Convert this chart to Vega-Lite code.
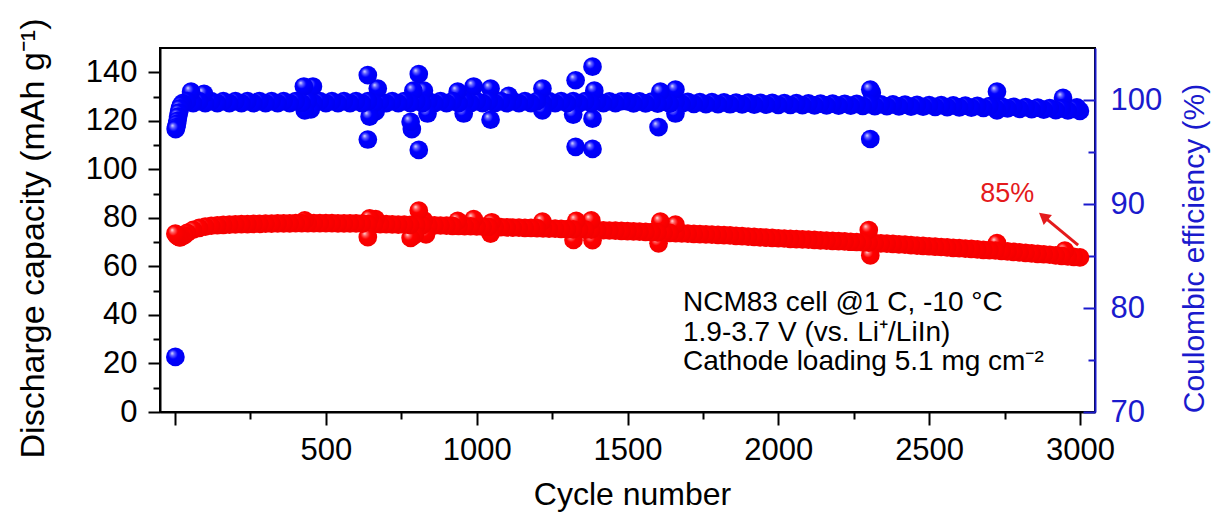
{
  "$schema": "https://vega.github.io/schema/vega-lite/v6.json",
  "width": 935,
  "height": 364,
  "autosize": {"type": "none"},
  "padding": {"left": 160, "top": 48, "right": 118, "bottom": 104},
  "background": "white",
  "config": {
    "view": {"stroke": "black", "strokeWidth": 2},
    "font": "Liberation Sans",
    "axis": {"grid": false, "labelFont": "Liberation Sans", "titleFont": "Liberation Sans", "titleFontWeight": "normal", "labelFlush": false, "labelOverlap": false}
  },
  "datasets": {
    "cap": [
      {"cycle": 1, "val": 73.5}, {"cycle": 4, "val": 73.0}, {"cycle": 8, "val": 72.5}, {"cycle": 12, "val": 72.2}, {"cycle": 16, "val": 72.0}, {"cycle": 20, "val": 72.2}, {"cycle": 30, "val": 72.8},
      {"cycle": 40, "val": 73.8}, {"cycle": 60, "val": 75.1}, {"cycle": 80, "val": 75.9}, {"cycle": 100, "val": 76.4}, {"cycle": 120, "val": 76.75}, {"cycle": 140, "val": 76.95}, {"cycle": 160, "val": 77.1}, {"cycle": 180, "val": 77.2}, {"cycle": 200, "val": 77.3}, {"cycle": 220, "val": 77.4}, {"cycle": 240, "val": 77.45}, {"cycle": 260, "val": 77.5}, {"cycle": 280, "val": 77.55}, {"cycle": 300, "val": 77.6}, {"cycle": 320, "val": 77.65}, {"cycle": 340, "val": 77.7}, {"cycle": 360, "val": 77.7}, {"cycle": 380, "val": 77.75}, {"cycle": 400, "val": 77.8}, {"cycle": 420, "val": 77.8}, {"cycle": 440, "val": 77.8}, {"cycle": 460, "val": 77.8}, {"cycle": 480, "val": 77.8}, {"cycle": 500, "val": 77.8}, {"cycle": 520, "val": 77.8}, {"cycle": 540, "val": 77.75}, {"cycle": 560, "val": 77.75}, {"cycle": 580, "val": 77.7}, {"cycle": 600, "val": 77.7}, {"cycle": 620, "val": 77.6}, {"cycle": 640, "val": 77.55}, {"cycle": 660, "val": 77.5}, {"cycle": 680, "val": 77.45}, {"cycle": 700, "val": 77.4}, {"cycle": 720, "val": 77.3}, {"cycle": 740, "val": 77.25}, {"cycle": 760, "val": 77.2}, {"cycle": 780, "val": 77.15}, {"cycle": 800, "val": 77.1}, {"cycle": 820, "val": 77.0}, {"cycle": 840, "val": 76.95}, {"cycle": 860, "val": 76.9}, {"cycle": 880, "val": 76.85}, {"cycle": 900, "val": 76.8}, {"cycle": 920, "val": 76.7}, {"cycle": 940, "val": 76.65}, {"cycle": 960, "val": 76.6}, {"cycle": 980, "val": 76.55}, {"cycle": 1000, "val": 76.5}, {"cycle": 1020, "val": 76.4}, {"cycle": 1040, "val": 76.3}, {"cycle": 1060, "val": 76.25}, {"cycle": 1080, "val": 76.2}, {"cycle": 1100, "val": 76.1}, {"cycle": 1120, "val": 76.0}, {"cycle": 1140, "val": 75.95}, {"cycle": 1160, "val": 75.9}, {"cycle": 1180, "val": 75.85}, {"cycle": 1200, "val": 75.8}, {"cycle": 1220, "val": 75.7}, {"cycle": 1240, "val": 75.6}, {"cycle": 1260, "val": 75.55}, {"cycle": 1280, "val": 75.5}, {"cycle": 1300, "val": 75.4}, {"cycle": 1320, "val": 75.3}, {"cycle": 1340, "val": 75.25}, {"cycle": 1360, "val": 75.15}, {"cycle": 1380, "val": 75.1}, {"cycle": 1400, "val": 75.0}, {"cycle": 1420, "val": 74.9}, {"cycle": 1440, "val": 74.8}, {"cycle": 1460, "val": 74.7}, {"cycle": 1480, "val": 74.6}, {"cycle": 1500, "val": 74.5}, {"cycle": 1520, "val": 74.4}, {"cycle": 1540, "val": 74.3}, {"cycle": 1560, "val": 74.2}, {"cycle": 1580, "val": 74.1}, {"cycle": 1600, "val": 74.0}, {"cycle": 1620, "val": 73.9}, {"cycle": 1640, "val": 73.8}, {"cycle": 1660, "val": 73.7}, {"cycle": 1680, "val": 73.6}, {"cycle": 1700, "val": 73.5}, {"cycle": 1720, "val": 73.4}, {"cycle": 1740, "val": 73.3}, {"cycle": 1760, "val": 73.2}, {"cycle": 1780, "val": 73.1}, {"cycle": 1800, "val": 73.0}, {"cycle": 1820, "val": 72.9}, {"cycle": 1840, "val": 72.75}, {"cycle": 1860, "val": 72.6}, {"cycle": 1880, "val": 72.45}, {"cycle": 1900, "val": 72.3}, {"cycle": 1920, "val": 72.15}, {"cycle": 1940, "val": 72.0}, {"cycle": 1960, "val": 71.9}, {"cycle": 1980, "val": 71.75}, {"cycle": 2000, "val": 71.6}, {"cycle": 2020, "val": 71.5}, {"cycle": 2040, "val": 71.35}, {"cycle": 2060, "val": 71.25}, {"cycle": 2080, "val": 71.1}, {"cycle": 2100, "val": 71.0}, {"cycle": 2120, "val": 70.9}, {"cycle": 2140, "val": 70.75}, {"cycle": 2160, "val": 70.65}, {"cycle": 2180, "val": 70.5}, {"cycle": 2200, "val": 70.4}, {"cycle": 2220, "val": 70.3}, {"cycle": 2240, "val": 70.15}, {"cycle": 2260, "val": 70.05}, {"cycle": 2280, "val": 69.9}, {"cycle": 2300, "val": 69.8}, {"cycle": 2320, "val": 69.65}, {"cycle": 2340, "val": 69.5}, {"cycle": 2360, "val": 69.4}, {"cycle": 2380, "val": 69.25}, {"cycle": 2400, "val": 69.1}, {"cycle": 2420, "val": 68.95}, {"cycle": 2440, "val": 68.8}, {"cycle": 2460, "val": 68.6}, {"cycle": 2480, "val": 68.45}, {"cycle": 2500, "val": 68.3}, {"cycle": 2520, "val": 68.15}, {"cycle": 2540, "val": 68.0}, {"cycle": 2560, "val": 67.8}, {"cycle": 2580, "val": 67.65}, {"cycle": 2600, "val": 67.5}, {"cycle": 2620, "val": 67.35}, {"cycle": 2640, "val": 67.2}, {"cycle": 2660, "val": 67.0}, {"cycle": 2680, "val": 66.85}, {"cycle": 2700, "val": 66.7}, {"cycle": 2720, "val": 66.55}, {"cycle": 2740, "val": 66.35}, {"cycle": 2760, "val": 66.15}, {"cycle": 2780, "val": 65.95}, {"cycle": 2800, "val": 65.8}, {"cycle": 2820, "val": 65.6}, {"cycle": 2840, "val": 65.4}, {"cycle": 2860, "val": 65.2}, {"cycle": 2880, "val": 65.0}, {"cycle": 2900, "val": 64.8}, {"cycle": 2920, "val": 64.55}, {"cycle": 2940, "val": 64.35}, {"cycle": 2960, "val": 64.15}, {"cycle": 2980, "val": 63.9}, {"cycle": 3000, "val": 63.7},
      {"cycle": 430, "val": 79.0}, {"cycle": 639, "val": 72.1}, {"cycle": 645, "val": 79.8}, {"cycle": 665, "val": 79.5}, {"cycle": 781, "val": 71.7}, {"cycle": 795, "val": 73.0}, {"cycle": 808, "val": 83.0}, {"cycle": 825, "val": 79.0}, {"cycle": 832, "val": 73.2}, {"cycle": 937, "val": 78.8}, {"cycle": 990, "val": 79.5}, {"cycle": 1046, "val": 73.5}, {"cycle": 1050, "val": 78.2}, {"cycle": 1218, "val": 78.5}, {"cycle": 1321, "val": 70.9}, {"cycle": 1330, "val": 78.8}, {"cycle": 1384, "val": 70.8}, {"cycle": 1380, "val": 79.0}, {"cycle": 1603, "val": 69.5}, {"cycle": 1609, "val": 78.5}, {"cycle": 1659, "val": 77.2}, {"cycle": 2300, "val": 75.0}, {"cycle": 2305, "val": 64.5}, {"cycle": 2725, "val": 69.6}, {"cycle": 2950, "val": 66.5}
    ],
    "ce": [
      {"cycle": 1, "val": 75.3}, {"cycle": 2, "val": 97.2}, {"cycle": 4, "val": 97.4}, {"cycle": 6, "val": 97.7}, {"cycle": 8, "val": 98.0}, {"cycle": 10, "val": 98.4}, {"cycle": 13, "val": 98.8}, {"cycle": 16, "val": 99.2}, {"cycle": 20, "val": 99.5}, {"cycle": 25, "val": 99.7},
      {"cycle": 40, "val": 99.9}, {"cycle": 60, "val": 99.7}, {"cycle": 80, "val": 99.9}, {"cycle": 100, "val": 99.7}, {"cycle": 120, "val": 99.9}, {"cycle": 140, "val": 99.7}, {"cycle": 160, "val": 99.9}, {"cycle": 180, "val": 99.7}, {"cycle": 200, "val": 99.9}, {"cycle": 220, "val": 99.7}, {"cycle": 240, "val": 99.9}, {"cycle": 260, "val": 99.7}, {"cycle": 280, "val": 99.9}, {"cycle": 300, "val": 99.7}, {"cycle": 320, "val": 99.9}, {"cycle": 340, "val": 99.7}, {"cycle": 360, "val": 99.9}, {"cycle": 380, "val": 99.7}, {"cycle": 400, "val": 99.9}, {"cycle": 420, "val": 99.7}, {"cycle": 440, "val": 99.9}, {"cycle": 460, "val": 99.7}, {"cycle": 480, "val": 99.9}, {"cycle": 500, "val": 99.7}, {"cycle": 520, "val": 99.9}, {"cycle": 540, "val": 99.7}, {"cycle": 560, "val": 99.9}, {"cycle": 580, "val": 99.7}, {"cycle": 600, "val": 99.9}, {"cycle": 620, "val": 99.7}, {"cycle": 640, "val": 99.9}, {"cycle": 660, "val": 99.7}, {"cycle": 680, "val": 99.9}, {"cycle": 700, "val": 99.7}, {"cycle": 720, "val": 99.9}, {"cycle": 740, "val": 99.7}, {"cycle": 760, "val": 99.9}, {"cycle": 780, "val": 99.7}, {"cycle": 800, "val": 99.9}, {"cycle": 820, "val": 99.7}, {"cycle": 840, "val": 99.9}, {"cycle": 860, "val": 99.7}, {"cycle": 880, "val": 99.9}, {"cycle": 900, "val": 99.7}, {"cycle": 920, "val": 99.9}, {"cycle": 940, "val": 99.7}, {"cycle": 960, "val": 99.9}, {"cycle": 980, "val": 99.7}, {"cycle": 1000, "val": 99.9}, {"cycle": 1020, "val": 99.7}, {"cycle": 1040, "val": 99.9}, {"cycle": 1060, "val": 99.7}, {"cycle": 1080, "val": 99.9}, {"cycle": 1100, "val": 99.7}, {"cycle": 1120, "val": 99.9}, {"cycle": 1140, "val": 99.7}, {"cycle": 1160, "val": 99.9}, {"cycle": 1180, "val": 99.7}, {"cycle": 1200, "val": 99.9}, {"cycle": 1220, "val": 99.7}, {"cycle": 1240, "val": 99.9}, {"cycle": 1260, "val": 99.7}, {"cycle": 1280, "val": 99.9}, {"cycle": 1300, "val": 99.7}, {"cycle": 1320, "val": 99.9}, {"cycle": 1340, "val": 99.7}, {"cycle": 1360, "val": 99.9}, {"cycle": 1380, "val": 99.7}, {"cycle": 1400, "val": 99.9}, {"cycle": 1420, "val": 99.7}, {"cycle": 1440, "val": 99.88}, {"cycle": 1460, "val": 99.69}, {"cycle": 1480, "val": 99.88},
      {"cycle": 1500, "val": 99.87}, {"cycle": 1520, "val": 99.68}, {"cycle": 1540, "val": 99.86}, {"cycle": 1560, "val": 99.67}, {"cycle": 1580, "val": 99.85}, {"cycle": 1600, "val": 99.66}, {"cycle": 1620, "val": 99.84}, {"cycle": 1640, "val": 99.65}, {"cycle": 1660, "val": 99.83}, {"cycle": 1680, "val": 99.64}, {"cycle": 1700, "val": 99.81}, {"cycle": 1720, "val": 99.63}, {"cycle": 1740, "val": 99.8}, {"cycle": 1760, "val": 99.61}, {"cycle": 1780, "val": 99.79}, {"cycle": 1800, "val": 99.6}, {"cycle": 1820, "val": 99.77}, {"cycle": 1840, "val": 99.59}, {"cycle": 1860, "val": 99.76}, {"cycle": 1880, "val": 99.57}, {"cycle": 1900, "val": 99.75}, {"cycle": 1920, "val": 99.56}, {"cycle": 1940, "val": 99.73}, {"cycle": 1960, "val": 99.55}, {"cycle": 1980, "val": 99.72}, {"cycle": 2000, "val": 99.53}, {"cycle": 2020, "val": 99.71}, {"cycle": 2040, "val": 99.52}, {"cycle": 2060, "val": 99.69}, {"cycle": 2080, "val": 99.51}, {"cycle": 2100, "val": 99.68}, {"cycle": 2120, "val": 99.49}, {"cycle": 2140, "val": 99.66}, {"cycle": 2160, "val": 99.48}, {"cycle": 2180, "val": 99.65}, {"cycle": 2200, "val": 99.46}, {"cycle": 2220, "val": 99.64}, {"cycle": 2240, "val": 99.45}, {"cycle": 2260, "val": 99.62}, {"cycle": 2280, "val": 99.43}, {"cycle": 2300, "val": 99.61}, {"cycle": 2320, "val": 99.42}, {"cycle": 2340, "val": 99.59}, {"cycle": 2360, "val": 99.4}, {"cycle": 2380, "val": 99.57}, {"cycle": 2400, "val": 99.39}, {"cycle": 2420, "val": 99.56}, {"cycle": 2440, "val": 99.37}, {"cycle": 2460, "val": 99.54}, {"cycle": 2480, "val": 99.35}, {"cycle": 2500, "val": 99.52}, {"cycle": 2520, "val": 99.33}, {"cycle": 2540, "val": 99.5}, {"cycle": 2560, "val": 99.31}, {"cycle": 2580, "val": 99.48}, {"cycle": 2600, "val": 99.29}, {"cycle": 2620, "val": 99.46}, {"cycle": 2640, "val": 99.27}, {"cycle": 2660, "val": 99.44}, {"cycle": 2680, "val": 99.25}, {"cycle": 2700, "val": 99.42}, {"cycle": 2720, "val": 99.22}, {"cycle": 2740, "val": 99.39}, {"cycle": 2760, "val": 99.19}, {"cycle": 2780, "val": 99.35}, {"cycle": 2800, "val": 99.15}, {"cycle": 2820, "val": 99.31}, {"cycle": 2840, "val": 99.11}, {"cycle": 2860, "val": 99.27}, {"cycle": 2880, "val": 99.07}, {"cycle": 2900, "val": 99.23}, {"cycle": 2920, "val": 99.03}, {"cycle": 2940, "val": 99.19}, {"cycle": 2960, "val": 98.99}, {"cycle": 2980, "val": 99.15}, {"cycle": 3000, "val": 98.95},
      {"cycle": 53, "val": 100.8}, {"cycle": 96, "val": 100.6}, {"cycle": 427, "val": 101.3}, {"cycle": 457, "val": 101.3}, {"cycle": 430, "val": 99.0}, {"cycle": 450, "val": 99.1}, {"cycle": 639, "val": 102.4}, {"cycle": 639, "val": 96.2}, {"cycle": 645, "val": 98.4}, {"cycle": 672, "val": 101.1}, {"cycle": 665, "val": 98.9}, {"cycle": 781, "val": 97.9}, {"cycle": 785, "val": 97.2}, {"cycle": 790, "val": 100.9}, {"cycle": 808, "val": 102.5}, {"cycle": 808, "val": 95.2}, {"cycle": 825, "val": 100.9}, {"cycle": 837, "val": 98.7}, {"cycle": 937, "val": 100.8}, {"cycle": 957, "val": 98.7}, {"cycle": 990, "val": 101.3}, {"cycle": 1046, "val": 101.1}, {"cycle": 1046, "val": 98.1}, {"cycle": 1106, "val": 100.4}, {"cycle": 1218, "val": 101.1}, {"cycle": 1218, "val": 99.0}, {"cycle": 1320, "val": 98.6}, {"cycle": 1328, "val": 101.9}, {"cycle": 1328, "val": 95.5}, {"cycle": 1384, "val": 103.2}, {"cycle": 1384, "val": 95.3}, {"cycle": 1384, "val": 98.2}, {"cycle": 1390, "val": 100.9}, {"cycle": 1603, "val": 97.4}, {"cycle": 1609, "val": 100.8}, {"cycle": 1659, "val": 101.0}, {"cycle": 1659, "val": 98.7}, {"cycle": 2305, "val": 101.0}, {"cycle": 2305, "val": 96.25}, {"cycle": 2310, "val": 100.7}, {"cycle": 2725, "val": 100.8}, {"cycle": 2725, "val": 99.0}, {"cycle": 2944, "val": 100.2}, {"cycle": 2990, "val": 99.3}
    ],
    "notes": [
      {"cycle": 1684, "val": 41.6, "label": "NCM83 cell @1 C, -10 °C"},
      {"cycle": 1684, "val": 29.1, "label": "1.9-3.7 V (vs. Li⁺/LiIn)"},
      {"cycle": 1684, "val": 17.3, "label": "Cathode loading 5.1 mg cm⁻²"}
    ],
    "pct": [{"cycle": 2759, "val": 86.5, "label": "85%"}],
    "arrow": [{"cycle": 2994, "val": 68.8, "cycle2": 2882, "val2": 80.3}],
    "head": [{"cycle": 2879, "val": 80.6}]
  },
  "encoding": {
    "x": {
      "field": "cycle", "type": "quantitative",
      "scale": {"domain": [-50, 3050], "nice": false, "zero": false},
      "axis": {
        "orient": "bottom",
        "format": "d",
        "values": [0, 250, 500, 750, 1000, 1250, 1500, 1750, 2000, 2250, 2500, 2750, 3000],
        "labelExpr": "datum.value % 500 === 0 && datum.value > 0 ? datum.label : ''",
        "tickSize": {"condition": {"test": "datum.value % 500 === 0", "value": 13}, "value": 7},
        "tickWidth": 2, "tickColor": "black",
        "domainColor": "black", "domainWidth": 2,
        "labelFontSize": 31, "labelColor": "black", "labelPadding": 10,
        "title": "Cycle number", "titleFontSize": 32, "titleColor": "black",
        "titleX": 472, "titleY": 92, "titleAlign": "center", "titleBaseline": "alphabetic"
      }
    }
  },
  "layer": [
    {
      "encoding": {
        "y": {
          "field": "val", "type": "quantitative",
          "scale": {"domain": [0, 150], "nice": false, "zero": false},
          "axis": {
            "orient": "left",
            "values": [0, 10, 20, 30, 40, 50, 60, 70, 80, 90, 100, 110, 120, 130, 140],
            "labelExpr": "datum.value % 20 === 0 ? datum.label : ''",
            "tickSize": {"condition": {"test": "datum.value % 20 === 0", "value": 12}, "value": 7},
            "tickWidth": 2, "tickColor": "black",
            "domainColor": "black", "domainWidth": 2,
            "labelFontSize": 31, "labelColor": "black", "labelPadding": 11, "labelBaseline": "middle",
            "title": "Discharge capacity (mAh g⁻¹)", "titleFontSize": 34, "titleColor": "black",
            "titleAngle": 270, "titleX": -117, "titleY": 190, "titleAlign": "center", "titleBaseline": "alphabetic"
          }
        }
      },
      "layer": [
        {
          "data": {"name": "cap"},
          "mark": {
            "type": "point", "filled": true, "size": 350, "opacity": 1, "strokeWidth": 0,
            "fill": {"gradient": "radial", "x1": 0.32, "y1": 0.3, "r1": 0, "x2": 0.45, "y2": 0.45, "r2": 0.6,
              "stops": [{"offset": 0, "color": "#ffe6e6"}, {"offset": 0.18, "color": "#ff6464"}, {"offset": 0.42, "color": "#ff0000"}, {"offset": 1, "color": "#f20000"}]}
          },
          "encoding": {"order": {"field": "cycle", "type": "quantitative", "sort": "descending"}}
        },
        {
          "data": {"name": "notes"},
          "mark": {"type": "text", "align": "left", "baseline": "alphabetic", "fontSize": 28, "color": "black", "font": "Liberation Sans"},
          "encoding": {"text": {"field": "label"}}
        },
        {
          "data": {"name": "pct"},
          "mark": {"type": "text", "align": "center", "baseline": "alphabetic", "fontSize": 27, "color": "#e41a1c", "font": "Liberation Sans"},
          "encoding": {"text": {"field": "label"}}
        },
        {
          "data": {"name": "arrow"},
          "mark": {"type": "rule", "color": "#e41a1c", "strokeWidth": 3},
          "encoding": {"x2": {"field": "cycle2"}, "y2": {"field": "val2"}}
        },
        {
          "data": {"name": "head"},
          "mark": {"type": "point", "shape": "triangle-up", "filled": true, "size": 170, "angle": 309, "color": "#e41a1c", "opacity": 1}
        }
      ]
    },
    {
      "data": {"name": "ce"},
      "mark": {
        "type": "point", "filled": true, "size": 350, "opacity": 1, "strokeWidth": 0,
        "fill": {"gradient": "radial", "x1": 0.32, "y1": 0.3, "r1": 0, "x2": 0.45, "y2": 0.45, "r2": 0.6,
          "stops": [{"offset": 0, "color": "#e6e6ff"}, {"offset": 0.18, "color": "#6464ff"}, {"offset": 0.42, "color": "#0000ff"}, {"offset": 1, "color": "#0000f0"}]}
      },
      "encoding": {
        "order": {"field": "cycle", "type": "quantitative", "sort": "descending"},
        "y": {
          "field": "val", "type": "quantitative",
          "scale": {"domain": [70, 105], "nice": false, "zero": false},
          "axis": {
            "orient": "right",
            "values": [70, 75, 80, 85, 90, 95, 100],
            "labelExpr": "datum.value % 10 === 0 ? datum.label : ''",
            "tickSize": {"condition": {"test": "datum.value % 10 === 0", "value": -12}, "value": -7},
            "tickWidth": 2, "tickColor": "#1a1acd",
            "domainColor": "#1a1acd", "domainWidth": 2,
            "labelFontSize": 31, "labelColor": "#1a1acd", "labelPadding": 27, "labelBaseline": "middle",
            "title": "Coulombic efficiency (%)", "titleFontSize": 30, "titleColor": "#1a1acd",
            "titleAngle": 270, "titleX": 108, "titleY": 200, "titleAlign": "center", "titleBaseline": "alphabetic"
          }
        }
      }
    }
  ],
  "resolve": {"scale": {"y": "independent"}, "axis": {"y": "independent"}}
}
